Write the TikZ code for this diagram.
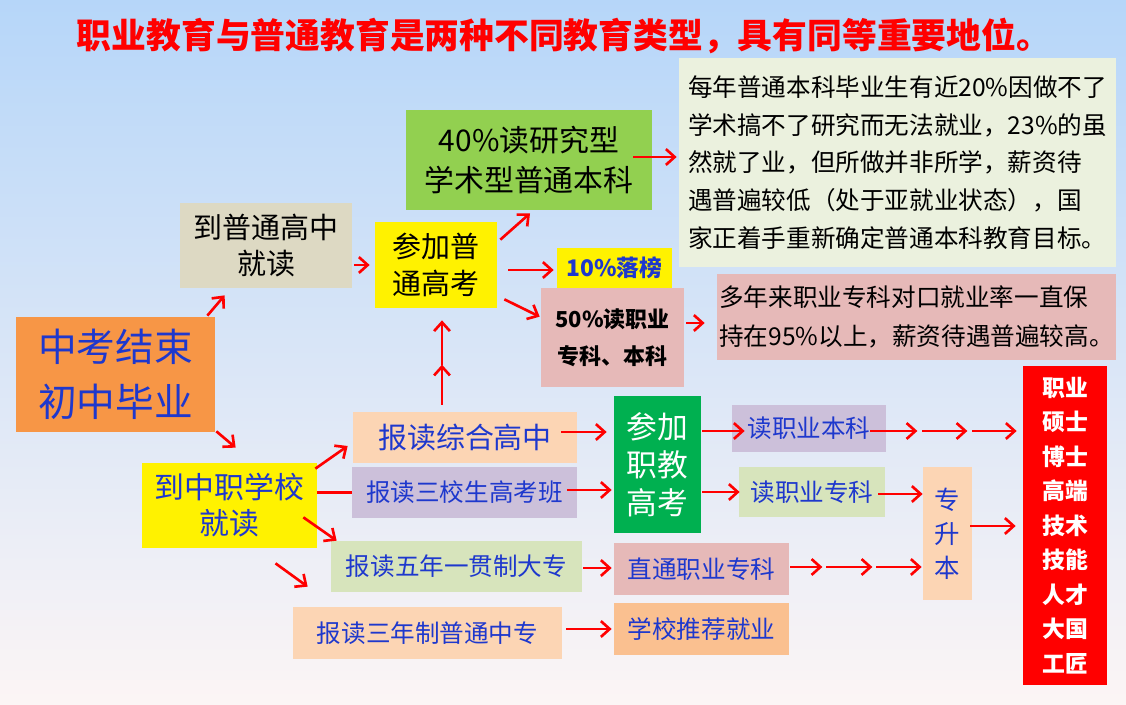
\documentclass[tikz,border=0pt]{standalone}
\usepackage{fontspec}
\setmainfont{Noto Sans CJK SC}
\usepackage{tikz}
\usetikzlibrary{arrows.meta, calc}

\definecolor{txtblue}{RGB}{30,56,205}
\definecolor{skyblue}{RGB}{182,214,249}
\definecolor{pinkwhite}{RGB}{252,245,245}
\definecolor{greybox}{RGB}{221,217,195}
\definecolor{grassgreen}{RGB}{146,208,80}
\definecolor{notegreen}{RGB}{235,241,222}
\definecolor{rosebox}{RGB}{230,185,184}
\definecolor{orangebox}{RGB}{247,150,70}
\definecolor{peachbox}{RGB}{252,213,180}
\definecolor{lilacbox}{RGB}{204,192,218}
\definecolor{sagebox}{RGB}{215,228,188}
\definecolor{examgreen}{RGB}{0,176,80}
\definecolor{apricotbox}{RGB}{250,192,144}

\tikzset{
  box/.style={inner sep=0pt, align=center, text=txtblue},
  wh/.style 2 args={minimum width=#1*0.02cm, minimum height=#2*0.02cm},
  fs/.style 2 args={font=\fontsize{#1}{#2}\selectfont},
  arr/.style={draw=red, line width=1.5pt, -{Straight Barb[length=5pt, width=9pt]}},
}

\begin{document}
\begin{tikzpicture}[x=0.02cm, y=-0.02cm]
  \useasboundingbox (0,0) rectangle (1126,705);
  \shade[top color=skyblue, middle color=white, bottom color=pinkwhite] (0,0) rectangle (1126,705);

  \node[font=\bfseries\fontsize{19.8}{22}\selectfont, text=red] (title) at (564,36)
    {职业教育与普通教育是两种不同教育类型，具有同等重要地位。};

  % general route
  \node[box, fill=grassgreen, text=black, wh={246}{100}, fs={17}{22.7}] (yanjiu) at (529,160)
    {40\%读研究型\\学术型普通本科};
  \node[box, fill=notegreen, text=black, wh={437}{209}, fs={14}{21.5}, align=left] (note1) at (897.5,162.5)
    {每年普通本科毕业生有近20\%因做不了\\学术搞不了研究而无法就业，23\%的虽\\然就了业，但所做并非所学，薪资待\\遇普遍较低（处于亚就业状态），国\\家正着手重新确定普通本科教育目标。};
  \node[box, fill=greybox, text=black, wh={172}{85}, fs={16.5}{21}] (pugao) at (266,245.5) {到普通高中\\就读};
  \node[box, fill=yellow, text=black, wh={122}{86}, fs={16.5}{21.5}] (pugaokao) at (436,265) {参加普\\通高考};
  \node[box, fill=yellow, wh={115}{40}, font=\bfseries\fontsize{13}{15}\selectfont] (luobang) at (614.5,268) {10\%落榜};
  \node[box, fill=rosebox, text=black, wh={143}{99}, font=\bfseries\fontsize{12.5}{21}\selectfont] (zhike) at (612.5,337.5)
    {50\%读职业\\专科、本科};
  \node[box, fill=rosebox, text=black, wh={399}{86}, fs={14}{22}, align=left] (note2) at (916.5,317)
    {多年来职业专科对口就业率一直保\\持在95\%以上，薪资待遇普遍较高。};

  \node[box, fill=orangebox, wh={199}{115}, fs={22}{31.5}] (zhongkao) at (115.5,374.5) {中考结束\\初中毕业};

  % vocational route
  \node[box, fill=yellow, wh={175}{85}, fs={17}{20.5}] (zhongzhi) at (229.5,505.5) {到中职学校\\就读};
  \node[box, fill=peachbox, wh={224}{51}, fs={16.5}{20}] (zonghe) at (465,437.5) {报读综合高中};
  \node[box, fill=lilacbox, wh={225}{51}, fs={14}{17}] (sanxiao) at (464.5,492.5) {报读三校生高考班};
  \node[box, fill=sagebox, wh={251}{51}, fs={14}{17}] (wunian) at (456.5,566.5) {报读五年一贯制大专};
  \node[box, fill=peachbox, wh={269}{52}, fs={14}{17}] (sannian) at (427.5,633) {报读三年制普通中专};
  \node[box, fill=examgreen, text=white, wh={87}{137}, fs={17.5}{21.5}] (zhijiao) at (657.5,464.5) {参加\\职教\\高考};
  \node[box, fill=lilacbox, wh={154}{47}, fs={14}{17}] (benke) at (809,428.5) {读职业本科};
  \node[box, fill=sagebox, wh={146}{50}, fs={14}{17}] (zhuanke) at (812,492) {读职业专科};
  \node[box, fill=rosebox, wh={175}{52}, fs={14}{17}] (zhitong) at (701.5,569) {直通职业专科};
  \node[box, fill=apricotbox, wh={175}{52}, fs={14}{17}] (tuijian) at (701.5,629) {学校推荐就业};
  \node[box, fill=peachbox, wh={49}{133}, fs={14.5}{19.3}] (zsb) at (947.5,533.5) {专\\升\\本};
  \node[box, fill=red, text=white, wh={84}{319}, font=\bfseries\fontsize{13}{19.6}\selectfont] (rencai) at (1065,525.5)
    {职业\\硕士\\博士\\高端\\技术\\技能\\人才\\大国\\工匠};

  % arrows from the exam
  \draw[arr] ($(zhongkao.north east)+(-8,-1)$) -- ($(pugao.south west)+(45,7)$);
  \draw[arr] ($(zhongkao.south east)+(1,-1)$) -- ($(zhongzhi.north west)+(94,-15)$);

  \draw[arr] ($(pugao.east |- pugaokao.west)+(2,0)$) -- ($(pugaokao.west)+(-5,0)$);
  \draw[arr] ($(pugaokao.north east)+(3,18)$) -- ($(yanjiu.south)+(1,3)$);
  \draw[arr] ($(pugaokao.east)+(11,5)$) -- ($(luobang.west)+(-3,2)$);
  \draw[arr] ($(pugaokao.south east)+(7,-9)$) -- ($(zhike.north west)+(-1,29)$);
  \draw[arr] ($(yanjiu.east)+(-19,-3)$) -- ($(note1.west)+(-2,-5.5)$);
  \draw[arr] ($(zhike.east)+(2,-14.5)$) -- ($(note2.west)+(-12,6)$);

  \coordinate (shang) at ($(zonghe.north)+(-23,-47)$);
  \draw[arr] ($(zonghe.north)+(-23,-7)$) -- (shang);
  \draw[arr] (shang) -- ($(pugaokao.south)+(6,12)$);

  \draw[arr] ($(zhongzhi.north east)+(-2,6)$) -- ($(zonghe.west)+(-5,8.5)$);
  \draw[red, line width=1.5pt] (zhongzhi.east |- sanxiao.west) -- (sanxiao.west);
  \draw[arr] ($(zhongzhi.south east)+(-14,-31)$) -- ($(wunian.north west)+(6,0)$);
  \draw[arr] ($(zhongzhi.south)+(46,15)$) -- ($(sannian.north west)+(15,-20)$);

  \draw[arr] ($(zonghe.east)+(-16,-5.5)$) -- ($(zonghe.east -| zhijiao.west)+(-7,-5.5)$);
  \draw[arr] ($(sanxiao.east)+(-10,-2.5)$) -- ($(sanxiao.east -| zhijiao.west)+(-2,-2.5)$);
  \draw[arr] ($(wunian.east)+(1,1.5)$) -- ($(wunian.east -| zhitong.west)+(-2,1.5)$);
  \draw[arr] ($(sannian.east)+(4,-4)$) -- ($(sannian.east -| tuijian.west)+(-2,-4)$);
  \draw[arr] ($(zhijiao.east |- benke.west)+(1,2.5)$) -- ($(benke.west)+(13,2.5)$);
  \draw[arr] ($(zhijiao.east |- zhuanke.west)+(1,0)$) -- ($(zhuanke.west)+(1,0)$);

  % chains towards the top
  \path ($(benke.east)+(-16,2.5)$) coordinate (bk0) ++(47,0) coordinate (bk1)
    ++(5,0) coordinate (bk2) ++(45,0) coordinate (bk3) ++(5,0) coordinate (bk4);
  \draw[arr] (bk0) -- (bk1);
  \draw[arr] (bk2) -- (bk3);
  \draw[arr] (bk4) -- ($(benke.east -| rencai.west)+(-6,2.5)$);

  \path ($(zhitong.east)+(1,-2)$) coordinate (zt0) ++(32,0) coordinate (zt1)
    ++(4,0) coordinate (zt2) ++(46,0) coordinate (zt3) ++(4,0) coordinate (zt4);
  \draw[arr] (zt0) -- (zt1);
  \draw[arr] (zt2) -- (zt3);
  \draw[arr] (zt4) -- ($(zhitong.east -| zsb.west)+(-1,-2)$);

  \draw[arr] ($(zhuanke.east)+(-7,2)$) -- ($(zhuanke.east -| zsb.west)+(0,2)$);
  \draw[arr] ($(zsb.east)+(-2,-7.5)$) -- ($(zsb.east -| rencai.west)+(-7,-7.5)$);
\end{tikzpicture}
\end{document}
